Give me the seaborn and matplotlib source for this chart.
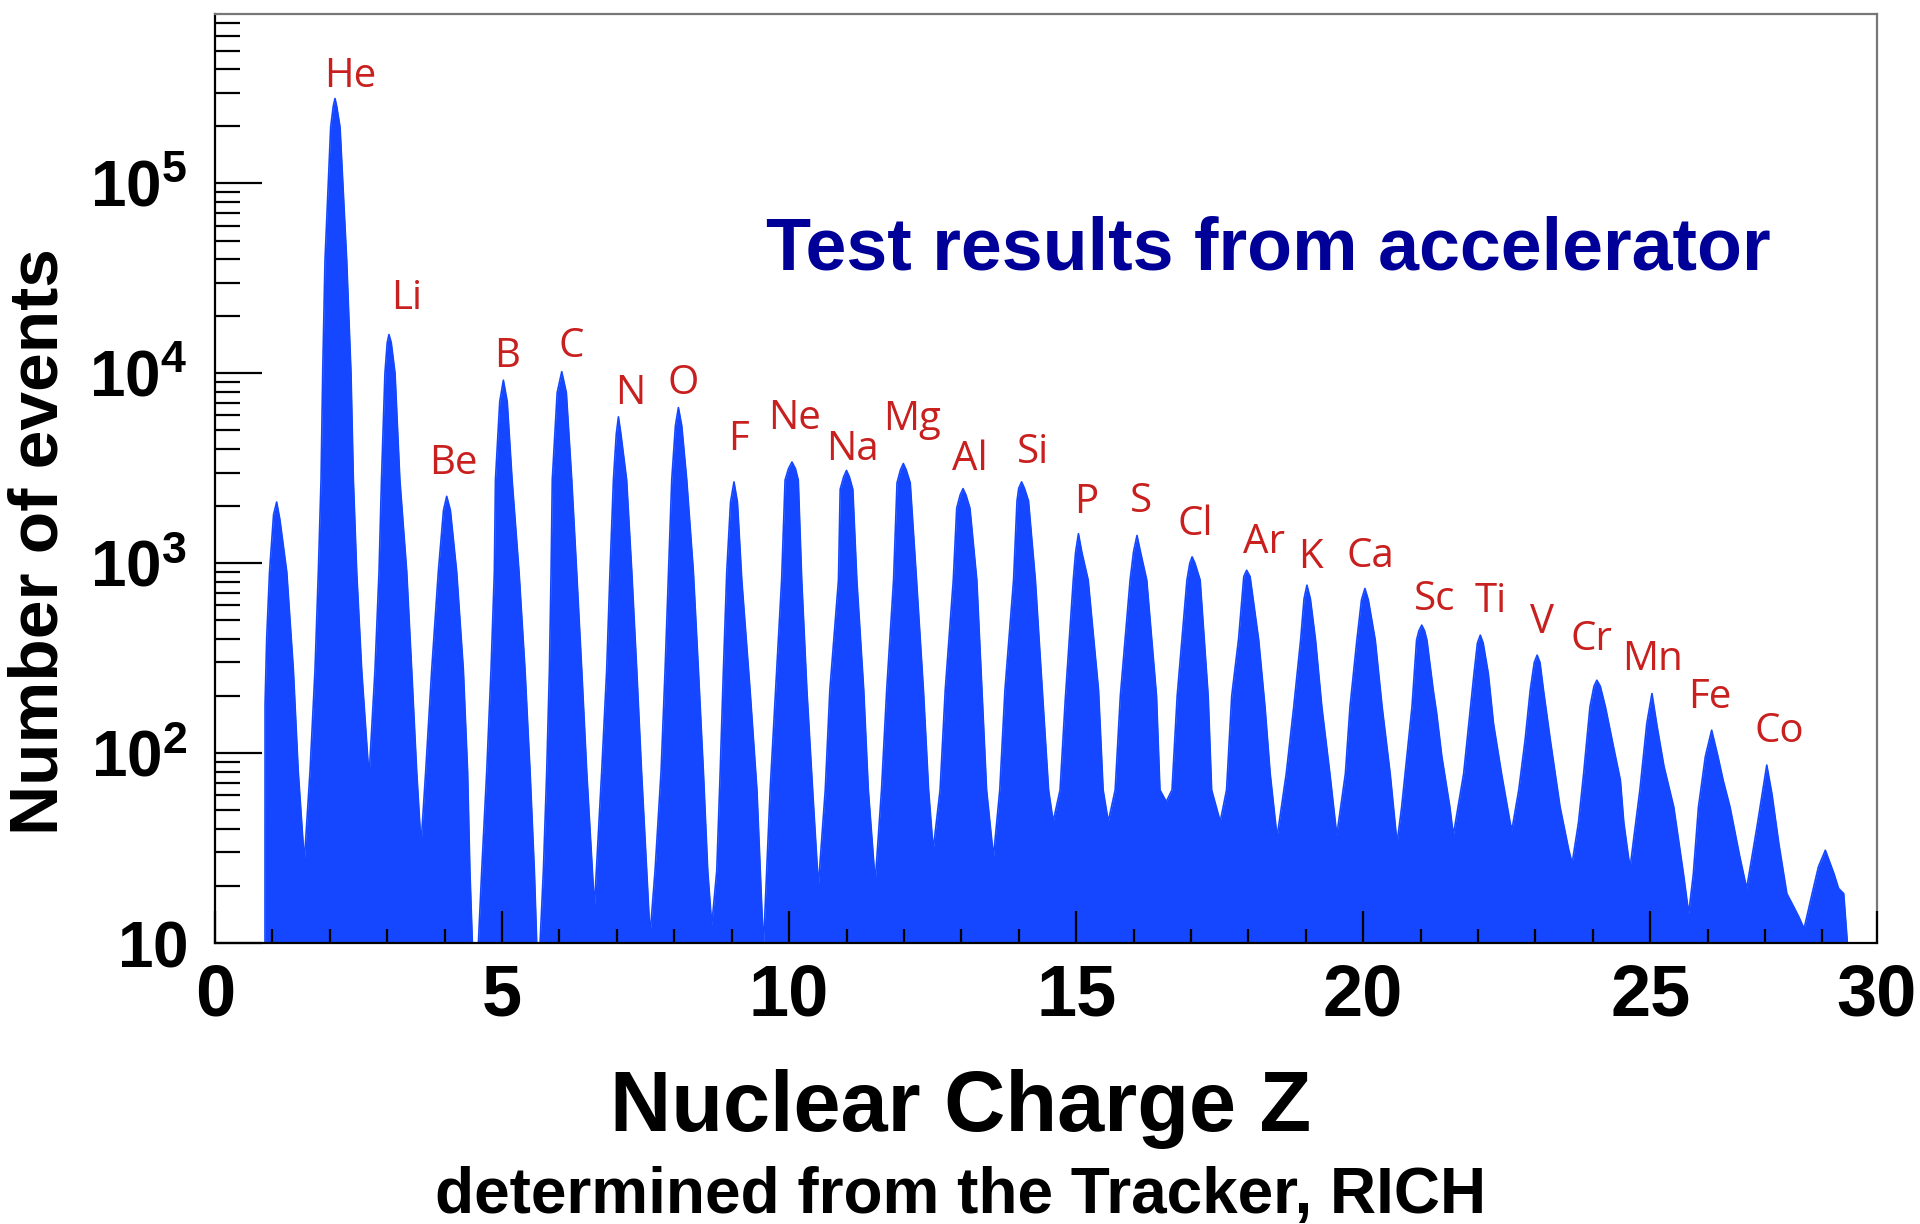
import numpy as np
import pandas as pd
import matplotlib
matplotlib.use("Agg")
import matplotlib.pyplot as plt
import seaborn as sns
from matplotlib.ticker import FixedLocator, MultipleLocator, LogLocator, FuncFormatter, NullFormatter

profile_z = [
    0.870, 0.872, 0.900, 0.950, 1.020, 1.074, 1.130, 1.250, 1.365, 1.450, 1.556,
    1.655, 1.742, 1.800, 1.847, 1.876, 1.916, 2.015, 2.060, 2.090, 2.120, 2.178, 2.294, 2.369, 2.410, 2.468, 2.555, 2.683,
    2.787, 2.857, 2.900, 2.960, 3.000, 3.030, 3.070, 3.136, 3.220, 3.340, 3.426, 3.513, 3.589,
    3.670, 3.775, 3.890, 3.980, 4.036, 4.100, 4.210, 4.326, 4.400, 4.440, 4.483, 4.535, 4.588,
    4.646, 4.733, 4.808, 4.866, 4.885, 4.960, 5.023, 5.090, 5.175, 5.296, 5.400, 5.488, 5.563, 5.604, 5.633, 5.662,
    5.720, 5.778, 5.825, 5.854, 5.875, 5.960, 6.040, 6.120, 6.214, 6.300, 6.388, 6.475, 6.609,
    6.736, 6.823, 6.880, 6.940, 6.990, 7.027, 7.070, 7.170, 7.260, 7.346, 7.430, 7.520, 7.578,
    7.665, 7.770, 7.840, 7.900, 7.956, 8.020, 8.072, 8.130, 8.217, 8.333, 8.420, 8.507, 8.583, 8.653,
    8.740, 8.800, 8.856, 8.914, 8.980, 9.040, 9.100, 9.176, 9.320, 9.440, 9.553,
    9.670, 9.760, 9.870, 9.930, 9.990, 10.050, 10.110, 10.160, 10.220, 10.310, 10.410, 10.510,
    10.630, 10.710, 10.860, 10.890, 10.950, 11.000, 11.050, 11.110, 11.180, 11.300, 11.380, 11.500,
    11.610, 11.700, 11.820, 11.880, 11.940, 11.990, 12.040, 12.110, 12.220, 12.340, 12.430, 12.510,
    12.630, 12.720, 12.860, 12.920, 12.980, 13.030, 13.080, 13.150, 13.270, 13.360, 13.440, 13.560,
    13.670, 13.760, 13.910, 13.970, 14.000, 14.050, 14.100, 14.170, 14.290, 14.410, 14.520, 14.600,
    14.720, 14.810, 14.950, 14.990, 15.040, 15.100, 15.210, 15.390, 15.470, 15.560,
    15.680, 15.770, 15.940, 16.000, 16.060, 16.120, 16.230, 16.400, 16.460, 16.570,
    16.670, 16.760, 16.930, 16.980, 17.020, 17.070, 17.160, 17.300, 17.360, 17.510,
    17.620, 17.710, 17.830, 17.920, 17.970, 18.030, 18.180, 18.290, 18.380, 18.500,
    18.660, 18.790, 18.910, 18.970, 19.020, 19.080, 19.170, 19.280, 19.420, 19.540,
    19.690, 19.770, 19.890, 19.970, 20.030, 20.090, 20.210, 20.330, 20.470, 20.590,
    20.670, 20.760, 20.850, 20.930, 20.970, 21.020, 21.070, 21.110, 21.220, 21.280, 21.370, 21.510, 21.570,
    21.750, 21.840, 21.930, 21.990, 22.040, 22.090, 22.180, 22.270, 22.410, 22.560, 22.590,
    22.710, 22.820, 22.910, 22.980, 23.030, 23.080, 23.140, 23.260, 23.430, 23.580, 23.640,
    23.750, 23.840, 23.950, 24.020, 24.070, 24.130, 24.220, 24.360, 24.480, 24.540, 24.620, 24.650,
    24.710, 24.820, 24.940, 25.030, 25.120, 25.240, 25.410, 25.580, 25.670,
    25.750, 25.840, 25.960, 26.070, 26.180, 26.270, 26.390, 26.560, 26.680,
    26.860, 26.950, 27.030, 27.120, 27.240, 27.380, 27.500, 27.590, 27.680,
    27.820, 27.930, 28.050, 28.200, 28.280, 28.370, 28.430, 28.460,
]
profile_counts = [
    1, 180, 400, 900, 1800, 2100, 1700, 900, 275, 80, 27,
    80, 275, 900, 2750, 10000, 39400, 198000, 255000, 280000, 255000, 198000, 39400, 10000, 2750, 900, 275, 75,
    275, 900, 2750, 10000, 14500, 16000, 14500, 10000, 2750, 900, 275, 80, 33,
    80, 275, 900, 1900, 2250, 1900, 900, 275, 80, 24, 10, 5, 10,
    24, 80, 275, 900, 2750, 7100, 9200, 7100, 2750, 900, 275, 80, 24, 10, 5, 10,
    24, 80, 275, 900, 2750, 7900, 10200, 7900, 2750, 900, 275, 80, 15.5,
    80, 275, 900, 2750, 4800, 5900, 4800, 2750, 900, 275, 80, 24, 11,
    24, 80, 275, 900, 2750, 5300, 6600, 5300, 2750, 900, 275, 80, 24, 12.4,
    24, 80, 275, 900, 2100, 2680, 2100, 815, 215, 64, 9.5,
    64, 200, 815, 2740, 3150, 3410, 3150, 2740, 815, 215, 64, 20,
    64, 215, 815, 2450, 2850, 3080, 2850, 2450, 815, 215, 64, 21,
    64, 215, 815, 2650, 3100, 3350, 3100, 2650, 815, 215, 64, 31,
    64, 215, 815, 1950, 2290, 2470, 2290, 1950, 815, 215, 64, 28.4,
    64, 215, 815, 2130, 2480, 2680, 2480, 2130, 815, 215, 64, 43.6,
    64, 190, 815, 1140, 1430, 1140, 815, 215, 64, 43.6,
    64, 200, 815, 1150, 1400, 1150, 815, 200, 64, 55.5,
    64, 200, 815, 1000, 1080, 1000, 815, 200, 64, 43.6,
    64, 200, 400, 850, 918, 850, 394, 175, 78, 36.2,
    78, 175, 394, 650, 766, 650, 394, 175, 78, 37,
    78, 175, 394, 640, 736, 640, 394, 175, 78, 33.5,
    52, 96, 175, 394, 440, 472, 440, 394, 215, 162, 96, 52, 37,
    78, 143, 262, 380, 418, 380, 262, 143, 78, 43, 39.3,
    64, 117, 215, 300, 328, 300, 215, 117, 52, 31, 26.3,
    43, 78, 175, 225, 242, 225, 175, 108, 72, 43, 28.5, 25,
    35, 64, 143, 206, 138, 85, 52, 23, 14.3,
    23, 52, 96, 132, 96, 72, 52, 28.5, 19.4,
    41, 61, 86.5, 61, 33.4, 18.2, 15.5, 13.7, 11.9,
    18.2, 25.2, 30.8, 23.2, 19.4, 18.2, 10.4, 1,
]

# ---- element labels ----
elements = ["He", "Li", "Be", "B", "C", "N", "O", "F", "Ne", "Na", "Mg", "Al", "Si",
            "P", "S", "Cl", "Ar", "K", "Ca", "Sc", "Ti", "V", "Cr", "Mn", "Fe", "Co"]
label_z = [2.36, 3.34, 4.16, 5.09, 6.21, 7.24, 8.16, 9.12, 10.10, 11.10, 12.14, 13.15, 14.25,
           15.17, 16.13, 17.08, 18.28, 19.08, 20.12, 21.25, 22.22, 23.11, 23.98, 25.04, 26.04, 27.25]
label_counts = [320000, 21900, 2965, 10800, 12200, 6920, 7820, 3940, 5120, 3480, 5010, 3080, 3350,
                1830, 1860, 1400, 1125, 938, 955, 566, 555, 427, 348, 274, 172, 115]

x_tick_values = [0, 5, 10, 15, 20, 25]
x_tick_labels = ["0", "5", "10", "15", "20", "25"]
x_end_label = "30"

title_text = "Test results from accelerator"
xlabel_text = "Nuclear Charge Z"
xsub_text = "determined from the Tracker, RICH"
ylabel_text = "Number of events"

BLUE = "#1447ff"
RED = "#c8201e"
NAVY = "#000099"

sns.set_theme(style="white")
plt.rcParams["font.family"] = ["Liberation Sans", "DejaVu Sans"]
plt.rcParams["text.color"] = "black"
plt.rcParams["xtick.color"] = "black"
plt.rcParams["ytick.color"] = "black"
plt.rcParams["mathtext.fontset"] = "custom"
plt.rcParams["mathtext.rm"] = "Liberation Sans:bold"
plt.rcParams["mathtext.bf"] = "Liberation Sans:bold"
plt.rcParams["mathtext.it"] = "Liberation Sans:bold"
plt.rcParams["mathtext.sf"] = "Liberation Sans:bold"

fig = plt.figure(figsize=(19.2, 12.24), dpi=100)
fig.patch.set_facecolor("white")
ax = fig.add_axes([215 / 1920, 1 - 943 / 1224, (1877 - 215) / 1920, (943 - 14) / 1224])

df = pd.DataFrame({"Z": profile_z, "events": profile_counts})
ax.fill_between(df["Z"], df["events"], 1, color=BLUE, linewidth=0, zorder=1)
sns.lineplot(data=df, x="Z", y="events", ax=ax, color=BLUE, linewidth=1.2,
             sort=False, estimator=None, zorder=1)

ax.set_yscale("log")
ax.set_xlim(0, 28.95)
ax.set_ylim(10, 7.8e5)
ax.set_xlabel("")
ax.set_ylabel("")
ax.set_axisbelow(False)

# x axis ticks
xmax = ax.get_xlim()[1]
ax.xaxis.set_major_locator(FixedLocator(x_tick_values + [xmax]))
ax.set_xticklabels(x_tick_labels + [x_end_label])
ax.xaxis.set_minor_locator(MultipleLocator(1))

# y axis ticks
ax.yaxis.set_major_locator(LogLocator(base=10, numticks=12))
ax.yaxis.set_minor_locator(LogLocator(base=10, subs=np.arange(2, 10), numticks=40))
ax.yaxis.set_minor_formatter(NullFormatter())


def yfmt(v, pos):
    k = int(round(np.log10(v)))
    if k == 1:
        return r"$\mathbf{10}$"
    return r"$\mathbf{10^{%d}}$" % k


ax.yaxis.set_major_formatter(FuncFormatter(yfmt))

ax.tick_params(axis="x", which="major", direction="in", length=23, width=1.6, color="black",
               labelcolor="black", bottom=True, top=False, labelsize=52, pad=14)
ax.tick_params(axis="x", which="minor", direction="in", length=10, width=1.6, color="black",
               bottom=True, top=False)
ax.tick_params(axis="y", which="major", direction="in", length=34, width=1.6, color="black",
               labelcolor="black", left=True, right=False, labelsize=46, pad=20)
ax.tick_params(axis="y", which="minor", direction="in", length=18, width=1.6, color="black",
               left=True, right=False)
for lab in ax.get_xticklabels():
    lab.set_fontweight("bold")

for side in ["left", "bottom"]:
    ax.spines[side].set_color("black")
    ax.spines[side].set_linewidth(1.6)
for side in ["top", "right"]:
    ax.spines[side].set_color("#777777")
    ax.spines[side].set_linewidth(1.6)

for el, zx, cy in zip(elements, label_z, label_counts):
    ax.text(zx, cy, el, ha="center", va="baseline", color=RED, fontsize=29,
            family=["Open Sans", "DejaVu Sans"], zorder=3)

fig.text(1771 / 1920, 1 - 270 / 1224, title_text, ha="right", va="baseline",
         color=NAVY, fontsize=53, fontweight="bold")
fig.text(961 / 1920, 1 - 1131 / 1224, xlabel_text, ha="center", va="baseline",
         color="black", fontsize=61, fontweight="bold")
fig.text(961 / 1920, 1 - 1213 / 1224, xsub_text, ha="center", va="baseline",
         color="black", fontsize=46, fontweight="bold")
fig.text(40 / 1920, 1 - 542 / 1224, ylabel_text, rotation=90, ha="center", va="center",
         color="black", fontsize=50, fontweight="bold")

fig.savefig("out.png", dpi=100, facecolor="white")
